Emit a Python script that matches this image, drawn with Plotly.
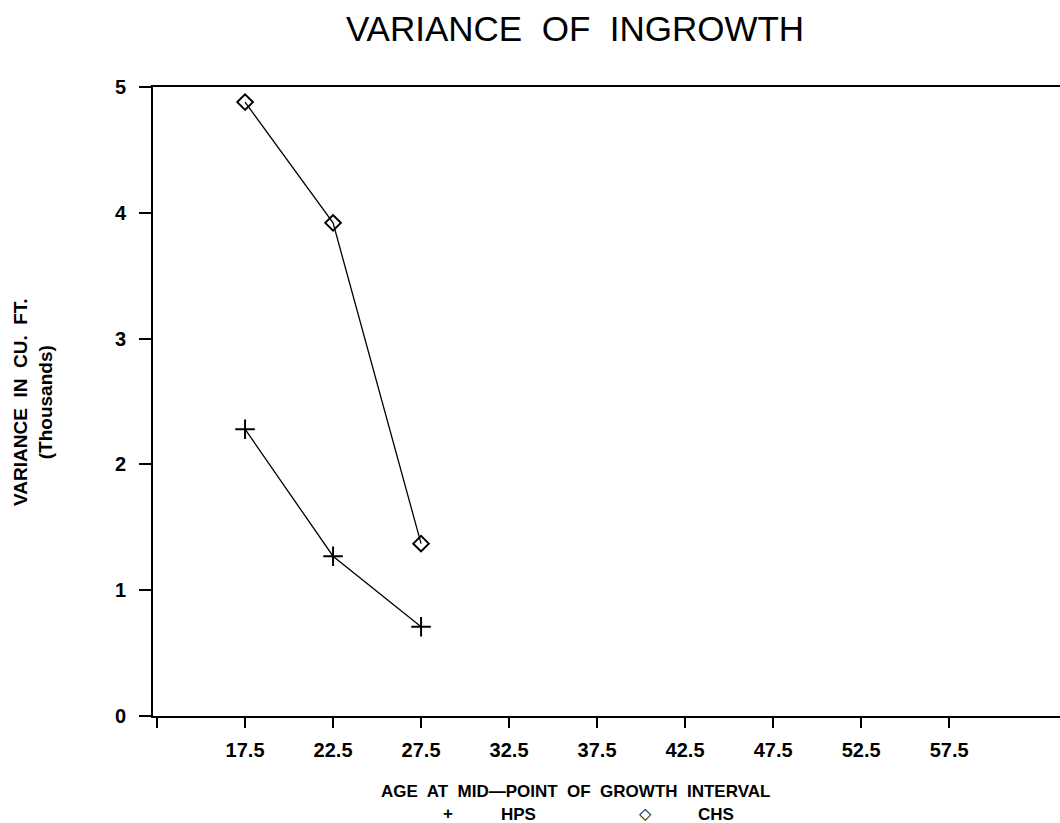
import plotly.graph_objects as go

# ---- data ----
ages = [17.5, 22.5, 27.5]
hps_variance = [2.28, 1.27, 0.71]
chs_variance = [4.88, 3.92, 1.37]
x_tick_vals = [12.5, 17.5, 22.5, 27.5, 32.5, 37.5, 42.5, 47.5, 52.5, 57.5]
x_tick_text = ["", "17.5", "22.5", "27.5", "32.5", "37.5", "42.5", "47.5", "52.5", "57.5"]
y_tick_vals = [0, 1, 2, 3, 4, 5]

W, H = 1060, 823
L, R, T, B = 153, 0, 87, 107
pw, ph = W - L - R, H - T - B

def px(x):
    return (x - L) / pw

def py(y):
    return (H - B - y) / ph

FONT = "Liberation Sans, Arial, sans-serif"

fig = go.Figure()
fig.add_trace(go.Scatter(
    x=ages, y=hps_variance, mode="lines+markers", name="HPS",
    line=dict(color="black", width=1.3),
    marker=dict(symbol="cross-thin", size=14, line=dict(color="black", width=2)),
))
fig.add_trace(go.Scatter(
    x=ages, y=chs_variance, mode="lines+markers", name="CHS",
    line=dict(color="black", width=1.3),
    marker=dict(symbol="diamond-open", size=12, color="black", line=dict(color="black", width=2)),
))

fig.update_layout(
    width=W, height=H,
    margin=dict(l=L, r=R, t=T, b=B),
    paper_bgcolor="white", plot_bgcolor="white",
    showlegend=False,
    title=dict(
        text="VARIANCE  OF  INGROWTH",
        x=575 / W, xref="container", xanchor="center",
        y=1 - 29 / H, yref="container", yanchor="middle",
        font=dict(family="Liberation Sans, Arial, sans-serif", weight=300,
                  size=35, color="black"),
    ),
    font=dict(family=FONT, color="black"),
)

fig.update_xaxes(
    range=[12.27, 63.8],
    tickmode="array", tickvals=x_tick_vals, ticktext=x_tick_text,
    ticks="outside", ticklen=10, tickwidth=2, tickcolor="black",
    tickfont=dict(family=FONT, size=20, weight="bold", color="black"),
    showline=True, linecolor="black", linewidth=2, mirror=True,
    showgrid=False, zeroline=False,
    ticklabelstandoff=5,
)
fig.update_yaxes(
    range=[0, 5],
    tickmode="array", tickvals=y_tick_vals,
    ticks="outside", ticklen=12, tickwidth=2, tickcolor="black",
    tickfont=dict(family=FONT, size=20, weight="bold", color="black"),
    showline=True, linecolor="black", linewidth=2, mirror=False,
    showgrid=False, zeroline=False,
    ticklabelstandoff=9,
)

ann_font = dict(family=FONT, size=17, weight="bold", color="black")
fig.add_annotation(
    text="VARIANCE  IN  CU.  FT.<br>(Thousands)", textangle=-90,
    xref="paper", yref="paper", x=px(33), y=py(402),
    xanchor="center", yanchor="middle", showarrow=False,
    font=dict(family=FONT, size=19, weight="bold", color="black"),
)
fig.add_annotation(
    text="AGE  AT  MID\u2014POINT  OF  GROWTH  INTERVAL",
    xref="paper", yref="paper", x=px(575), y=py(791),
    xanchor="center", yanchor="middle", showarrow=False,
    font=ann_font,
)
fig.add_annotation(text="+", xref="paper", yref="paper", x=px(448), y=py(813),
                   xanchor="center", yanchor="middle", showarrow=False, font=ann_font)
fig.add_annotation(text="HPS", xref="paper", yref="paper", x=px(518), y=py(814),
                   xanchor="center", yanchor="middle", showarrow=False, font=ann_font)
fig.add_annotation(text="\u25c7", xref="paper", yref="paper", x=px(645), y=py(813),
                   xanchor="center", yanchor="middle", showarrow=False,
                   font=dict(family="DejaVu Sans", size=16, weight="bold", color="black"))
fig.add_annotation(text="CHS", xref="paper", yref="paper", x=px(716), y=py(814),
                   xanchor="center", yanchor="middle", showarrow=False, font=ann_font)

fig.write_html("out.html")
